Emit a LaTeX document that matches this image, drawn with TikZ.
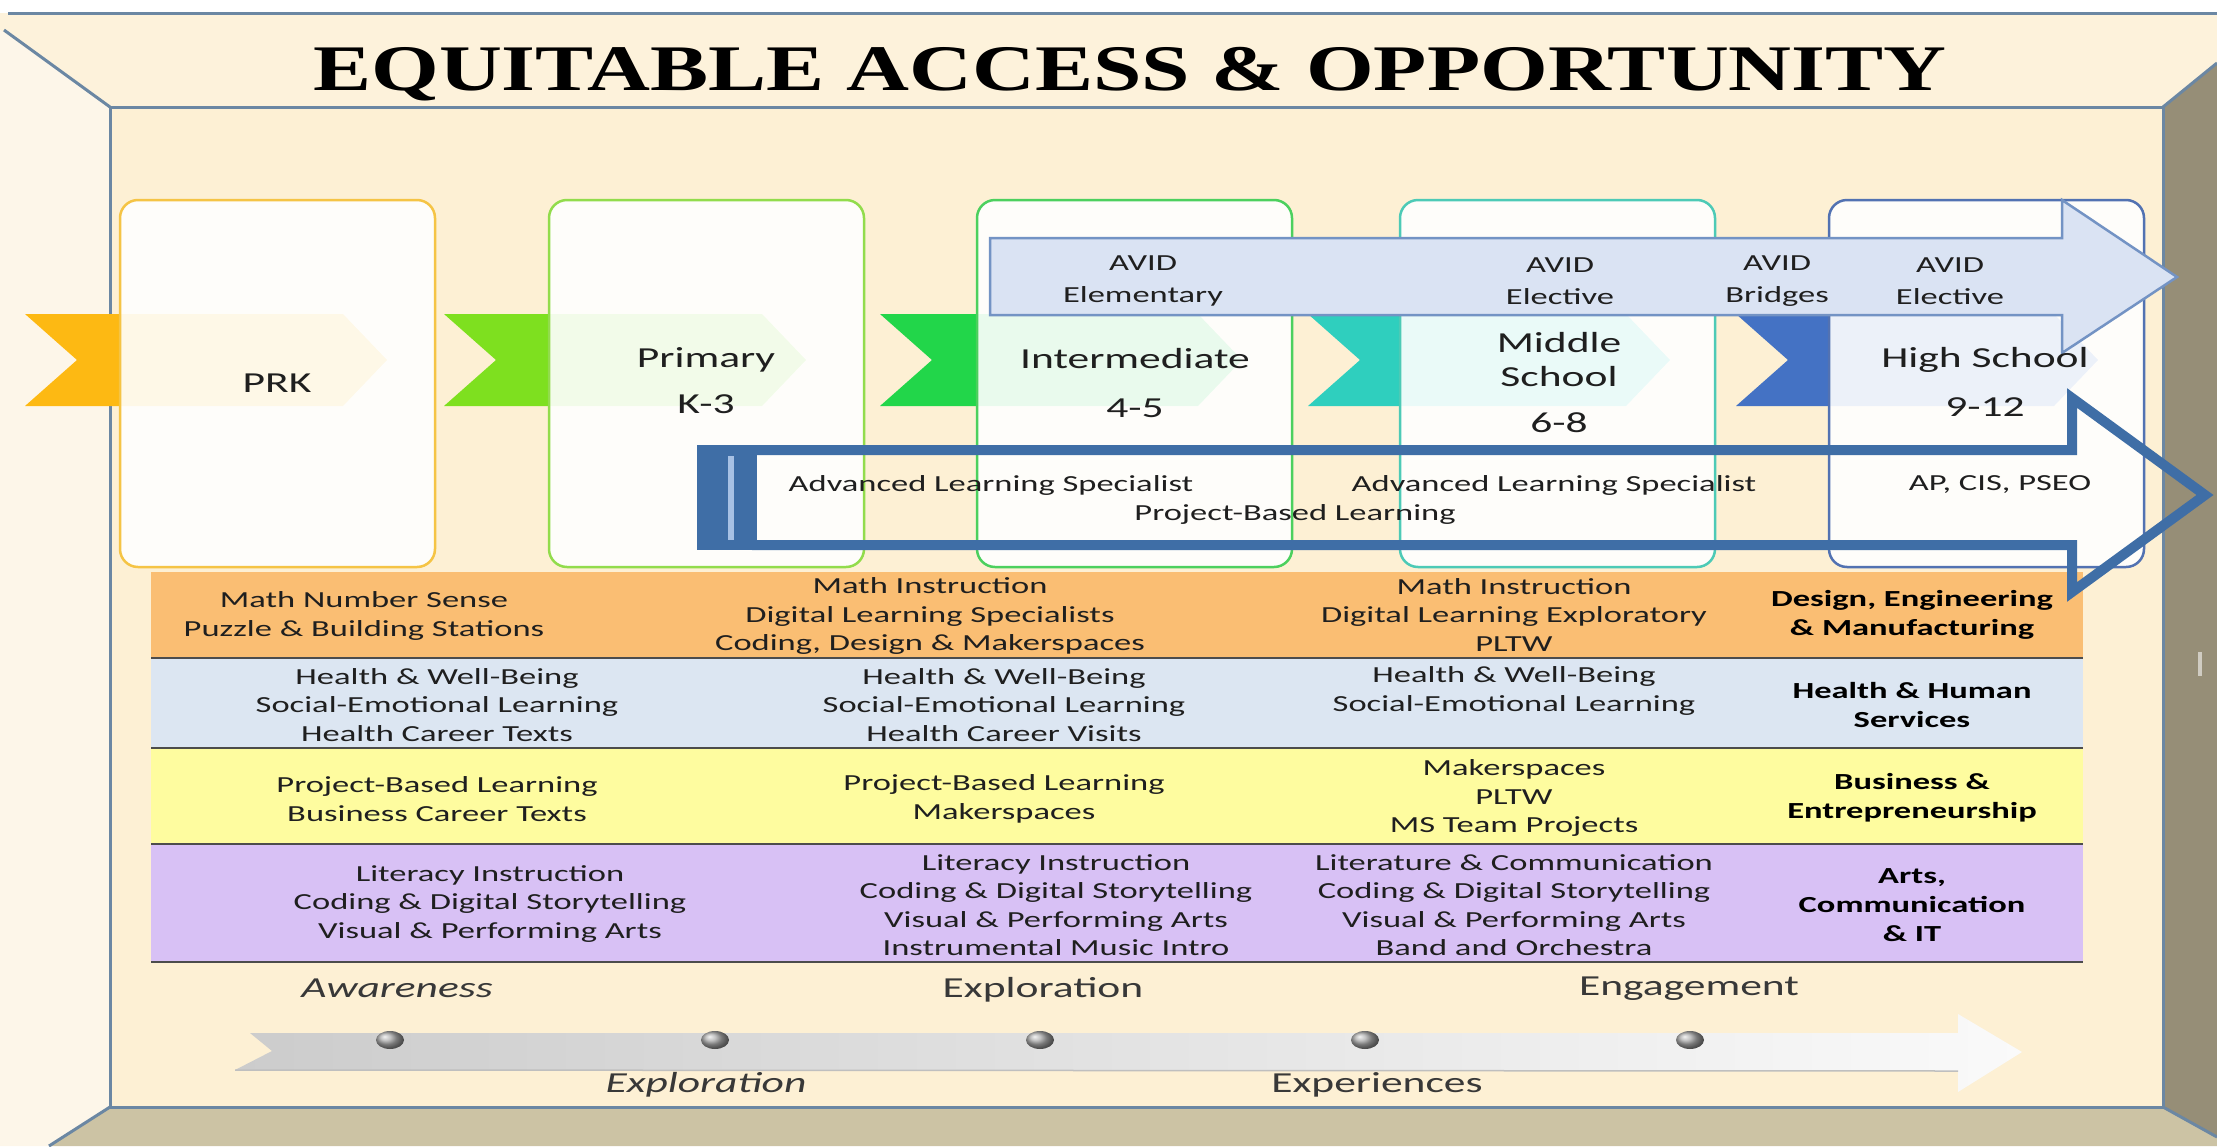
\documentclass[tikz,border=0pt]{standalone}
\usepackage{fontspec}
\setmainfont{Carlito}[FakeStretch=1.5]
\newfontfamily\titlefont{Liberation Serif}[FakeStretch=1.34]

\definecolor{wallline}{HTML}{6B87A3}
\definecolor{backwall}{HTML}{FDF0D4}
\definecolor{ceiling}{HTML}{FDF2DB}
\definecolor{sidewall}{HTML}{FDF6E9}
\definecolor{floorcol}{HTML}{CCC3A4}
\definecolor{rightwall}{HTML}{968E77}
\definecolor{prkc}{HTML}{FDB913}
\definecolor{primc}{HTML}{7EE01F}
\definecolor{intc}{HTML}{22D64A}
\definecolor{midc}{HTML}{2FCFBE}
\definecolor{highc}{HTML}{4472C4}
\definecolor{prkb}{HTML}{F5C445}
\definecolor{primb}{HTML}{92DC4C}
\definecolor{intb}{HTML}{4CD05E}
\definecolor{midb}{HTML}{4DCAB6}
\definecolor{highb}{HTML}{5272B2}
\definecolor{avidfill}{HTML}{DAE3F3}
\definecolor{avidline}{HTML}{7393C4}
\definecolor{advline}{HTML}{3F6EA6}
\definecolor{advstripe}{HTML}{A7C1E4}
\definecolor{rowmath}{HTML}{FABE73}
\definecolor{rowhealth}{HTML}{DCE6F2}
\definecolor{rowbiz}{HTML}{FEFC9F}
\definecolor{rowarts}{HTML}{D8C1F5}
\definecolor{ink}{HTML}{1F1F1F}

\begin{document}
\begin{tikzpicture}[x=1pt,y=-1pt,
	cell/.style={font=\fontsize{23}{28.5}\selectfont,align=center,text=ink,inner sep=0pt},
	cluster/.style={cell,font=\fontsize{23}{29}\selectfont\bfseries,text=black},
	stage/.style={font=\fontsize{29}{34}\selectfont,text=ink,inner sep=0pt},
	avid/.style={font=\fontsize{23}{32}\selectfont,align=center,text=ink,inner sep=0pt},
	phase/.style={font=\fontsize{29}{34}\selectfont,text=black!78,inner sep=0pt},
	phaseit/.style={phase,font=\fontsize{29}{34}\selectfont\itshape},
	stagebox/.style={line width=2.5pt,rounded corners=18pt,fill=white,fill opacity=.9},
	wall/.style={wallline,line width=3pt},
	rowrule/.style={black!70,line width=2.5pt}]
	\useasboundingbox (0,0) rectangle (2217,1146);
	\clip (0,0) rectangle (2217,1146);

	% room: ceiling, side walls, floor and back wall
	\fill[white] (0,0) rectangle (2217,1146);
	\fill[ceiling] (0,13) -- (2217,13) -- (2217,63) -- (2163,107) -- (110,107) -- (0,30) -- cycle;
	\fill[sidewall] (0,30) -- (110,107) -- (110,1107) -- (49,1146) -- (0,1146) -- cycle;
	\fill[floorcol] (49,1146) -- (110,1107) -- (2163,1107) -- (2217,1137) -- (2217,1146) -- cycle;
	\fill[rightwall] (2163,107) -- (2217,63) -- (2217,1137) -- (2163,1107) -- cycle;
	\fill[backwall] (110,107) rectangle (2163,1107);
	\draw[wall] (8,13) -- (2217,13);
	\draw[wall] (4,30) -- (110,107);
	\draw[wall] (110,107) rectangle (2163,1107);
	\draw[wall] (2163,107) -- (2217,63);
	\draw[wall] (110,1107) -- (49,1146);
	\draw[wall] (2163,1107) -- (2217,1137);
	\draw[rightwall!45!white,line width=4pt] (2200,652) -- (2200,676);

	% stage chevrons and boxes
	\foreach \tx/\col in {25/prkc,444/primc,880/intc,1308/midc,1736/highc}
		\fill[\col] (\tx,314) -- ({\tx+318},314) -- ({\tx+362},360) -- ({\tx+318},406) -- (\tx,406) -- ({\tx+52},360) -- cycle;
	\foreach \bx/\col in {120/prkb,549/primb,977/intb,1400/midb,1829/highb}
		\draw[stagebox,draw=\col] (\bx,200) rectangle ({\bx+315},567);

	\draw[avidline,fill=avidfill,line width=2.5pt] (990,238) -- (2062,238) -- (2062,200) -- (2177,277) -- (2062,353) -- (2062,315) -- (990,315) -- cycle;

	\node[stage] (prk) at (277,383) {PRK};
	\node[stage] (primary) at (706,360) {Primary};
	\node[stage] (primgrades) at (706,404) {K-3};
	\node[stage] (inter) at (1135,359) {Intermediate};
	\node[stage] (intergrades) at (1135,408) {4-5};
	\node[stage] (middle) at (1559,343) {Middle};
	\node[stage] (middleb) at (1559,377) {School};
	\node[stage] (midgrades) at (1559,423) {6-8};
	\node[stage] (high) at (1985,360) {High School};
	\node[stage] (highgrades) at (1985,407) {9-12};

	\node[avid] (avidelem) at (1143,281) {AVID\\Elementary};
	\node[avid] (avidms) at (1560,281) {AVID\\Elective};
	\node[avid] (avidbridge) at (1777,281) {AVID\\Bridges};
	\node[avid] (avidhs) at (1950,281) {AVID\\Elective};

	% pathway rows
	\fill[rowmath] (151,572) rectangle (2083,658);
	\fill[rowhealth] (151,658) rectangle (2083,748);
	\fill[rowbiz] (151,748) rectangle (2083,844);
	\fill[rowarts] (151,844) rectangle (2083,962);
	\foreach \ry in {658,748,844,962}
		\draw[rowrule] (151,\ry) -- (2083,\ry);

	\node[cell] (mathprk) at (364,616) {Math Number Sense\\Puzzle \& Building Stations};
	\node[cell] (mathel) at (930,616) {Math Instruction\\Digital Learning Specialists\\Coding, Design \& Makerspaces};
	\node[cell] (mathms) at (1514,615) {Math Instruction\\Digital Learning Exploratory\\PLTW};
	\node[cluster] (dem) at (1912,615) {Design, Engineering\\\& Manufacturing};

	\node[cell] (healthprk) at (437,705) {Health \& Well-Being\\Social-Emotional Learning\\Health Career Texts};
	\node[cell] (healthel) at (1004,705) {Health \& Well-Being\\Social-Emotional Learning\\Health Career Visits};
	\node[cell] (healthms) at (1514,691) {Health \& Well-Being\\Social-Emotional Learning};
	\node[cluster] (hhs) at (1912,705) {Health \& Human\\Services};

	\node[cell] (bizprk) at (437,799) {Project-Based Learning\\Business Career Texts};
	\node[cell] (bizel) at (1004,799) {Project-Based Learning\\Makerspaces};
	\node[cell] (bizms) at (1514,798) {Makerspaces\\PLTW\\MS Team Projects};
	\node[cluster] (be) at (1912,798) {Business \&\\Entrepreneurship};

	\node[cell] (artsprk) at (490,904) {Literacy Instruction\\Coding \& Digital Storytelling\\Visual \& Performing Arts};
	\node[cell] (artsel) at (1056,905) {Literacy Instruction\\Coding \& Digital Storytelling\\Visual \& Performing Arts\\Instrumental Music Intro};
	\node[cell] (artsms) at (1514,905) {Literature \& Communication\\Coding \& Digital Storytelling\\Visual \& Performing Arts\\Band and Orchestra};
	\node[cluster] (acit) at (1912,905) {Arts,\\Communication\\\& IT};

	% advanced learning arrow
	\fill[advline] (697,445) rectangle (757,550);
	\fill[advstripe] (728,456) rectangle (734,540);
	\draw[advline,line width=10pt,line join=miter] (752,450) -- (2072,450) -- (2072,398) -- (2205,495) -- (2072,592) -- (2072,545) -- (752,545);

	\node[avid] (alsel) at (991,485) {Advanced Learning Specialist};
	\node[avid] (alsms) at (1554,485) {Advanced Learning Specialist};
	\node[avid] (pbl) at (1295,514) {Project-Based Learning};
	\node[avid] (apcis) at (2000,485) {AP, CIS, PSEO};

	% continuum arrow
	\shade[left color=gray!40,right color=gray!4] (235,1070) -- (272,1051) -- (250,1033) -- (1958,1033) -- (1958,1014) -- (2022,1052) -- (1958,1092) -- (1958,1071) -- cycle;
	\draw[gray!50,line width=1.5pt] (235,1070) -- (1958,1071);
	\foreach \i in {0,...,4}
		\shade[ball color=gray!65] ({390+325*\i},1040) ellipse [x radius=14, y radius=9];

	\node[phaseit] (awareness) at (397,988) {Awareness};
	\node[phase] (explore) at (1043,990) {Exploration};
	\node[phase] (engage) at (1689,989) {Engagement};
	\node[phaseit] (exploreb) at (706,1085) {Exploration};
	\node[phase] (experience) at (1377,1085) {Experiences};

	\node[font=\titlefont\bfseries\fontsize{65}{70}\selectfont,anchor=base,inner sep=0pt] (title) at (1130,90) {EQUITABLE ACCESS \& OPPORTUNITY};
\end{tikzpicture}
\end{document}
